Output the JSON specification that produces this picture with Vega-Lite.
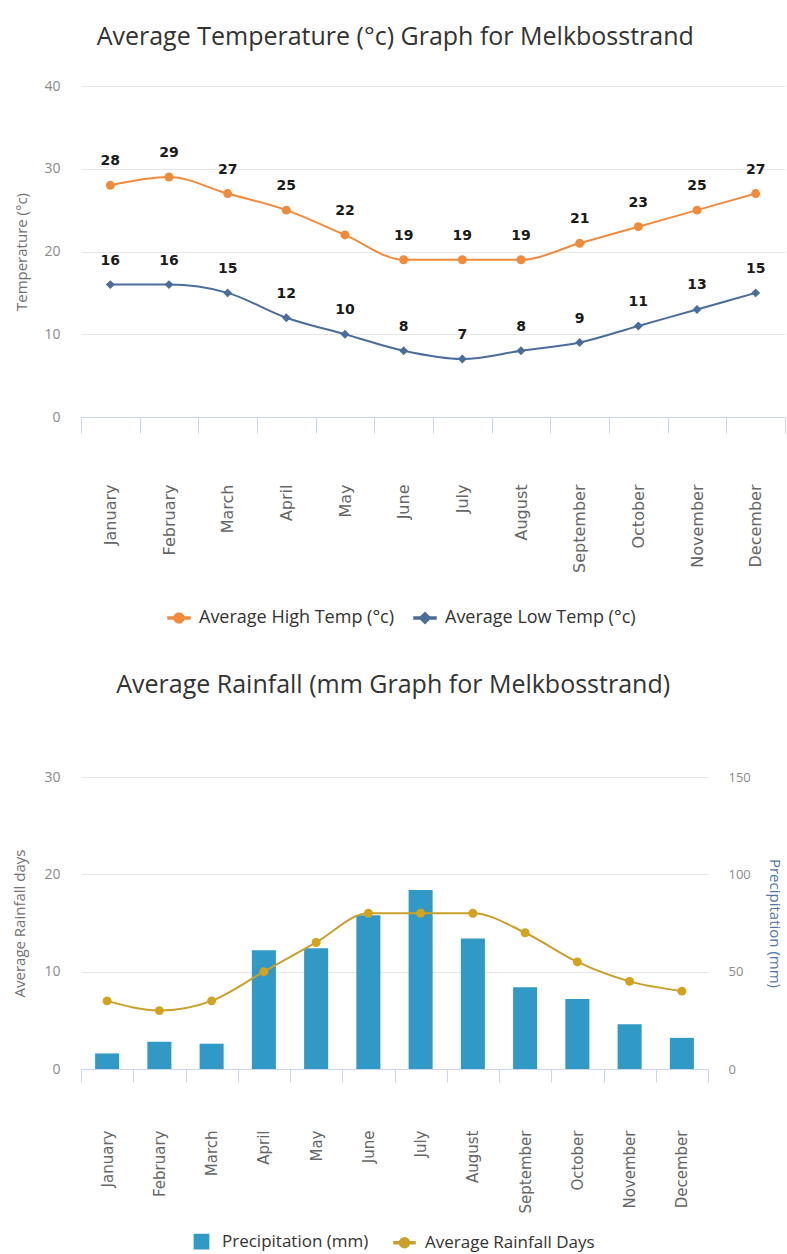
{
  "$schema": "https://vega.github.io/schema/vega-lite/v6.json",
  "padding": {"left": 12, "top": 25, "right": 2, "bottom": 0},
  "background": "white",
  "config": {"view": {"stroke": null}, "font": "Open Sans", "concat": {"spacing": 46}},
  "resolve": {"scale": {"color": "independent"}, "legend": {"color": "independent"}},
  "vconcat": [
    {
      "title": {"text": "Average Temperature (°c) Graph for Melkbosstrand", "fontSize": 25, "fontWeight": "normal", "color": "#333333", "anchor": "middle", "frame": "bounds", "offset": 29, "dx": -5},
      "width": 704,
      "height": 331,
      "data": {"values": [
        {"month": "January", "series": "Average High Temp (°c)", "temp": 28},
        {"month": "February", "series": "Average High Temp (°c)", "temp": 29},
        {"month": "March", "series": "Average High Temp (°c)", "temp": 27},
        {"month": "April", "series": "Average High Temp (°c)", "temp": 25},
        {"month": "May", "series": "Average High Temp (°c)", "temp": 22},
        {"month": "June", "series": "Average High Temp (°c)", "temp": 19},
        {"month": "July", "series": "Average High Temp (°c)", "temp": 19},
        {"month": "August", "series": "Average High Temp (°c)", "temp": 19},
        {"month": "September", "series": "Average High Temp (°c)", "temp": 21},
        {"month": "October", "series": "Average High Temp (°c)", "temp": 23},
        {"month": "November", "series": "Average High Temp (°c)", "temp": 25},
        {"month": "December", "series": "Average High Temp (°c)", "temp": 27},
        {"month": "January", "series": "Average Low Temp (°c)", "temp": 16},
        {"month": "February", "series": "Average Low Temp (°c)", "temp": 16},
        {"month": "March", "series": "Average Low Temp (°c)", "temp": 15},
        {"month": "April", "series": "Average Low Temp (°c)", "temp": 12},
        {"month": "May", "series": "Average Low Temp (°c)", "temp": 10},
        {"month": "June", "series": "Average Low Temp (°c)", "temp": 8},
        {"month": "July", "series": "Average Low Temp (°c)", "temp": 7},
        {"month": "August", "series": "Average Low Temp (°c)", "temp": 8},
        {"month": "September", "series": "Average Low Temp (°c)", "temp": 9},
        {"month": "October", "series": "Average Low Temp (°c)", "temp": 11},
        {"month": "November", "series": "Average Low Temp (°c)", "temp": 13},
        {"month": "December", "series": "Average Low Temp (°c)", "temp": 15}
      ]},
      "encoding": {
        "x": {
          "field": "month", "type": "ordinal",
          "sort": ["January", "February", "March", "April", "May", "June", "July", "August", "September", "October", "November", "December"],
          "scale": {"type": "band", "paddingInner": 0, "paddingOuter": 0},
          "axis": {"title": null, "labelAngle": -90, "labelAlign": "right", "labelBaseline": "middle", "labelPadding": 51, "labelFont": "DejaVu Sans", "labelFontSize": 16, "labelColor": "#666666", "tickSize": 16, "tickColor": "#ccd6eb", "domainColor": "#ccd6eb", "tickBand": "extent", "grid": false}
        },
        "y": {
          "field": "temp", "type": "quantitative",
          "scale": {"domain": [0, 40]},
          "axis": {"title": "Temperature (°c)", "titleColor": "#707070", "titleFontWeight": "normal", "titleFontSize": 15, "titlePadding": 14, "values": [0, 10, 20, 30, 40], "labelColor": "#8a8a8a", "labelFontSize": 14, "labelPadding": 21, "tickSize": 0, "domain": false, "grid": true, "gridColor": "#e6e6e6"}
        },
        "color": {
          "field": "series", "type": "nominal",
          "scale": {"domain": ["Average High Temp (°c)", "Average Low Temp (°c)"], "range": ["#f28a3c", "#4a6d9b"]},
          "legend": {
            "title": null, "orient": "none", "legendX": 86, "legendY": 520, "direction": "horizontal", "padding": 0,
            "symbolSize": 484, "labelFontSize": 18, "labelColor": "#333333", "labelOffset": 8, "columnPadding": 16, "labelLimit": 400,
            "encode": {"symbols": {"update": {
              "shape": {"signal": "datum.index === 0 ? 'M-1,-0.1H1V0.1H-1Z M-0.45,0A0.45,0.45 0 1,1 0.45,0A0.45,0.45 0 1,1 -0.45,0Z' : 'M-1,-0.1H1V0.1H-1Z M0,-0.5L0.5,0L0,0.5L-0.5,0Z'"},
              "fill": {"signal": "datum.index === 0 ? '#f28a3c' : '#4a6d9b'"},
              "stroke": {"value": "transparent"},
              "opacity": {"value": 1}
            }}}
          }
        }
      },
      "layer": [
        {"mark": {"type": "line", "interpolate": "monotone", "strokeWidth": 2}},
        {
          "transform": [{"filter": "datum.series === 'Average High Temp (°c)'"}],
          "mark": {"type": "point", "filled": true, "opacity": 1, "size": 80, "shape": "circle"}
        },
        {
          "transform": [{"filter": "datum.series === 'Average Low Temp (°c)'"}],
          "mark": {"type": "point", "filled": true, "opacity": 1, "size": 80, "shape": "diamond"}
        },
        {
          "mark": {"type": "text", "dy": -24, "fontWeight": "bold", "fontSize": 14, "font": "DejaVu Sans"},
          "encoding": {"text": {"field": "temp", "type": "quantitative"}, "color": {"value": "#1a1a1a"}}
        }
      ]
    },
    {
      "title": {"text": "Average Rainfall (mm Graph for Melkbosstrand)", "fontSize": 25, "fontWeight": "normal", "color": "#333333", "anchor": "middle", "frame": "bounds", "offset": 72, "dx": -4},
      "width": 627,
      "height": 292,
      "data": {"values": [
        {"month": "January", "precip": 8, "days": 7},
        {"month": "February", "precip": 14, "days": 6},
        {"month": "March", "precip": 13, "days": 7},
        {"month": "April", "precip": 61, "days": 10},
        {"month": "May", "precip": 62, "days": 13},
        {"month": "June", "precip": 79, "days": 16},
        {"month": "July", "precip": 92, "days": 16},
        {"month": "August", "precip": 67, "days": 16},
        {"month": "September", "precip": 42, "days": 14},
        {"month": "October", "precip": 36, "days": 11},
        {"month": "November", "precip": 23, "days": 9},
        {"month": "December", "precip": 16, "days": 8}
      ]},
      "encoding": {
        "x": {
          "field": "month", "type": "ordinal",
          "sort": ["January", "February", "March", "April", "May", "June", "July", "August", "September", "October", "November", "December"],
          "scale": {"type": "band", "paddingInner": 0, "paddingOuter": 0},
          "axis": {"title": null, "labelAngle": -90, "labelAlign": "right", "labelBaseline": "middle", "labelPadding": 48, "labelFont": "DejaVu Sans", "labelFontSize": 15, "labelColor": "#666666", "tickSize": 13, "tickColor": "#ccd6eb", "domainColor": "#ccd6eb", "tickBand": "extent", "grid": false}
        }
      },
      "layer": [
        {
          "mark": {"type": "bar", "width": {"band": 0.46}},
          "encoding": {
            "y": {"field": "precip", "type": "quantitative", "scale": {"domain": [0, 150]},
              "axis": {"orient": "right", "title": "Precipitation (mm)", "titleColor": "#4f77a8", "titleFontWeight": "normal", "titleFontSize": 15, "titlePadding": 16, "values": [0, 50, 100, 150], "labelColor": "#8a8a8a", "labelFontSize": 13, "labelPadding": 20, "tickSize": 0, "domain": false, "grid": false}},
            "color": {"datum": "Precipitation (mm)", "type": "nominal",
              "scale": {"domain": ["Precipitation (mm)", "Average Rainfall Days"], "range": ["#3199c6", "#c9a02a"]},
              "legend": {
                "title": null, "orient": "none", "legendX": 109, "legendY": 453, "direction": "horizontal", "padding": 0,
                "symbolSize": 441, "labelFontSize": 17, "labelColor": "#333333", "labelOffset": 9, "columnPadding": 22, "labelLimit": 400,
                "encode": {"symbols": {"update": {
                  "shape": {"signal": "datum.index === 0 ? 'M-0.68,-0.68H0.68V0.68H-0.68Z' : 'M-1,-0.1H1V0.1H-1Z M-0.47,0A0.47,0.47 0 1,1 0.47,0A0.47,0.47 0 1,1 -0.47,0Z'"},
                  "fill": {"signal": "datum.index === 0 ? '#3199c6' : '#d4a21e'"},
                  "stroke": {"value": "transparent"},
                  "opacity": {"value": 1}
                }}}
              }
            }
          }
        },
        {
          "encoding": {
            "y": {"field": "days", "type": "quantitative", "scale": {"domain": [0, 30]},
              "axis": {"orient": "left", "title": "Average Rainfall days", "titleColor": "#707070", "titleFontWeight": "normal", "titleFontSize": 15, "titlePadding": 16, "values": [0, 10, 20, 30], "labelColor": "#8a8a8a", "labelFontSize": 14, "labelPadding": 21, "tickSize": 0, "domain": false, "grid": true, "gridColor": "#e6e6e6"}},
            "color": {"datum": "Average Rainfall Days", "type": "nominal"}
          },
          "layer": [
            {"mark": {"type": "line", "interpolate": "monotone", "strokeWidth": 2}},
            {"mark": {"type": "point", "filled": true, "opacity": 1, "size": 80, "shape": "circle"}, "encoding": {"color": {"value": "#d4a21e"}}}
          ]
        }
      ],
      "resolve": {"scale": {"y": "independent"}}
    }
  ]
}
